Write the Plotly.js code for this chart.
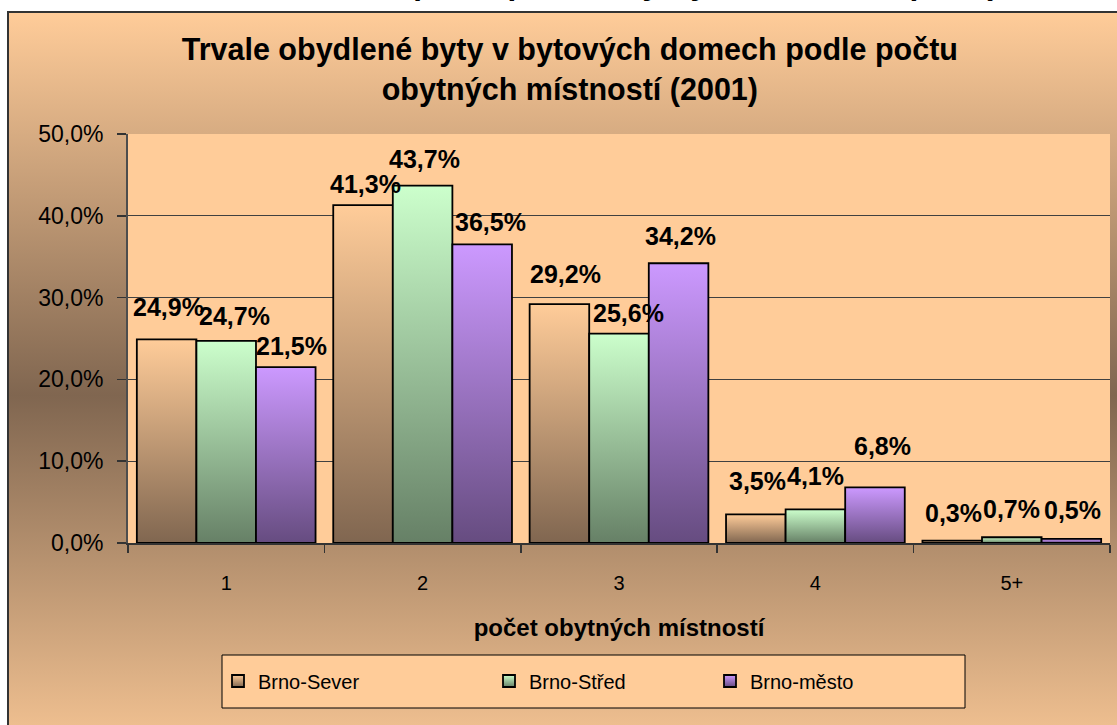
<!DOCTYPE html>
<html><head><meta charset="utf-8">
<script src="https://cdn.plot.ly/plotly-3.0.1.min.js"></script>
<style>
html,body{margin:0;padding:0;background:#fff;overflow:hidden;width:1117px;height:725px;}
#heading{position:absolute;left:416px;top:-33px;font:italic bold 32px 'Liberation Sans',Arial,sans-serif;line-height:32px;white-space:nowrap;color:#000;}
#frame{position:absolute;left:7px;top:11px;width:1115px;height:765px;border:2px solid #333;background:linear-gradient(to bottom,#FFCC99 0%,#806650 50%,#FFCC99 100%);}
#chart{width:1115px;height:765px;}
</style></head>
<body>
<div id="heading">podle počtu obytných místností (2001)</div>
<div id="frame"><div id="chart"></div></div>
<script>
// ---- data ----
const categories = ['1', '2', '3', '4', '5+'];
const seriesNames = ['Brno-Sever', 'Brno-Střed', 'Brno-město'];
const brnoSever = [24.9, 41.3, 29.2, 3.5, 0.3];
const brnoStred = [24.7, 43.7, 25.6, 4.1, 0.7];
const brnoMesto = [21.5, 36.5, 34.2, 6.8, 0.5];
const yTickValues = [0, 10, 20, 30, 40, 50];
const chartTitle = 'Trvale obydlené byty v bytových domech podle počtu<br>obytných místností (2001)';
const xAxisTitle = 'počet obytných místností';

// ---- style ----
const FONT = 'Liberation Sans, Arial, sans-serif';
const W = 1115, H = 765;
const M = {l: 119, r: 14, t: 121, b: 235};
const BARGAP = 0.09;
const gradients = [['#FFCC99', '#806650'], ['#CCFFCC', '#668066'], ['#CC99FF', '#664C80']];
const legendLeft = [209, 480, 701];
// label placement nudges in pixels (per series, per category), mimicking the original label layout
const labelNudgeX = [[2, 2, 6, 2, 1], [8, 2, 9, 0, 0], [6, 8, 2, 8, 1]];
const labelNudgeY = [[7, -4, 5, 8, 3], [0, 2, -4, 8, 3], [-4, -3, 2, 16, 4]];

const series = [brnoSever, brnoStred, brnoMesto];
const plotW = W - M.l - M.r;
const plotH = H - M.t - M.b;
const barPx = plotW / categories.length * (1 - BARGAP) / series.length;
const fmt = v => v.toFixed(1).replace('.', ',') + '%';

const legendKeys = ['legend', 'legend2', 'legend3'];
const traces = series.map((vals, i) => ({
  type: 'bar',
  name: seriesNames[i],
  x: categories,
  y: vals,
  marker: {color: gradients[i][0], line: {color: '#000', width: 1.8}},
  legend: legendKeys[i],
  hoverinfo: 'skip'
}));

const annotations = [];
series.forEach((vals, i) => vals.forEach((v, j) => annotations.push({
  x: j, y: v, xref: 'x', yref: 'y',
  text: fmt(v), showarrow: false,
  xshift: (i - 1) * barPx + labelNudgeX[i][j], yshift: 9 + labelNudgeY[i][j], yanchor: 'bottom',
  font: {family: FONT, size: 25, weight: 'bold', color: '#000'}
})));

const layout = {
  width: W, height: H,
  margin: M,
  paper_bgcolor: 'rgba(0,0,0,0)',
  plot_bgcolor: '#FFCC99',
  separators: ', ',
  barmode: 'group',
  bargap: BARGAP,
  bargroupgap: 0,
  font: {family: FONT, color: '#000'},
  title: {
    text: chartTitle, xref: 'container', yref: 'container',
    x: 0.503, xanchor: 'center', y: 1 - 47 / H, yanchor: 'top',
    font: {family: FONT, size: 30.5, weight: 'bold', color: '#000'}
  },
  xaxis: {
    type: 'category', tickson: 'boundaries', ticks: 'outside', ticklen: 8,
    tickcolor: '#333', tickwidth: 1.5, showline: true, linecolor: '#333', linewidth: 1.5,
    tickfont: {size: 20}, ticklabelstandoff: 21,
    title: {text: xAxisTitle, standoff: 26, font: {size: 24, weight: 'bold'}},
    showgrid: false, fixedrange: true
  },
  yaxis: {
    range: [0, 50], tickmode: 'array', tickvals: yTickValues, ticktext: yTickValues.map(fmt),
    ticks: 'outside', ticklen: 9, tickcolor: '#333', tickwidth: 1.5,
    showline: true, linecolor: '#4d4d4d', linewidth: 2,
    showgrid: true, gridcolor: '#404040', gridwidth: 1, zeroline: false,
    tickfont: {size: 23}, ticklabelstandoff: 9, fixedrange: true
  },
  shapes: [{
    type: 'rect', xref: 'paper', yref: 'paper', layer: 'below',
    x0: (213 - M.l) / plotW, x1: (956 - M.l) / plotW,
    y0: (H - M.b - 695) / plotH, y1: (H - M.b - 642) / plotH,
    fillcolor: '#FFCC99', line: {color: '#000', width: 1}
  }],
  annotations: annotations,
  showlegend: true
};
legendKeys.forEach((k, i) => {
  layout[k] = {
    xref: 'container', yref: 'container', x: legendLeft[i] / W, xanchor: 'left',
    y: 1 - 668 / H, yanchor: 'middle', orientation: 'h',
    bgcolor: 'rgba(0,0,0,0)', borderwidth: 0, itemwidth: 30,
    font: {family: FONT, size: 20, color: '#000'}
  };
});

function applyGradients(gd) {
  const NS = 'http://www.w3.org/2000/svg';
  const svg = gd.querySelector('svg.main-svg');
  let defs = svg.querySelector('defs');
  if (!defs) { defs = document.createElementNS(NS, 'defs'); svg.insertBefore(defs, svg.firstChild); }
  gradients.forEach((g, i) => {
    const lg = document.createElementNS(NS, 'linearGradient');
    lg.setAttribute('id', 'bargrad' + i);
    lg.setAttribute('x1', '0'); lg.setAttribute('y1', '0');
    lg.setAttribute('x2', '0'); lg.setAttribute('y2', '1');
    [[0, g[0]], [1, g[1]]].forEach(([o, c]) => {
      const s = document.createElementNS(NS, 'stop');
      s.setAttribute('offset', o); s.setAttribute('stop-color', c);
      lg.appendChild(s);
    });
    defs.appendChild(lg);
  });
  gd.querySelectorAll('.barlayer .trace').forEach((tr, i) => {
    tr.querySelectorAll('.point path').forEach(p => { p.style.fill = 'url(#bargrad' + i + ')'; });
  });
  legendKeys.forEach((k, i) => {
    gd.querySelectorAll('.' + k + ' .legendpoints path').forEach(p => { p.style.fill = 'url(#bargrad' + i + ')'; });
  });
}

Plotly.newPlot('chart', traces, layout, {staticPlot: true, displayModeBar: false}).then(applyGradients);
</script>
</body></html>
